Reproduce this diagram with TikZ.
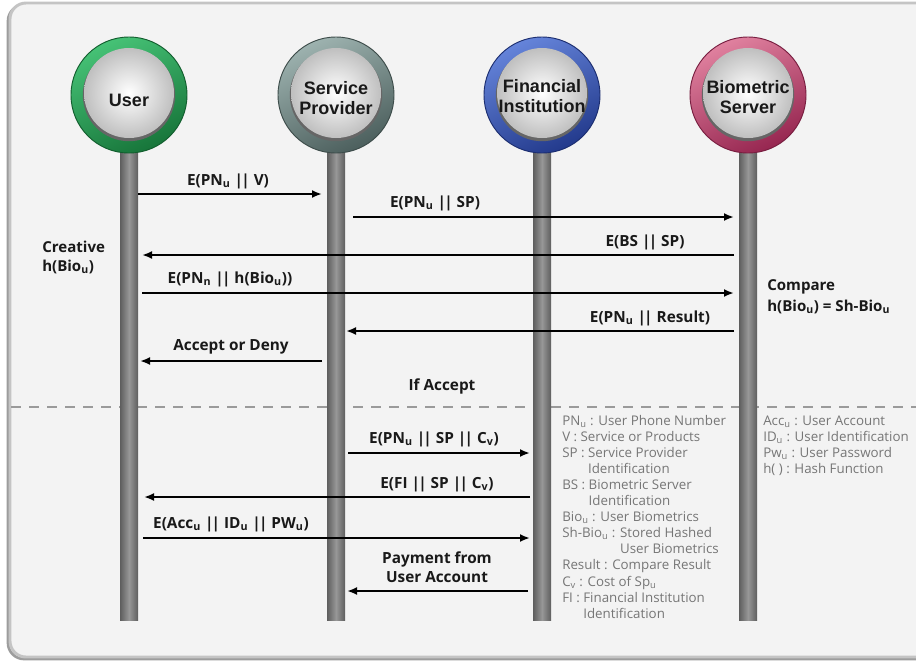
\documentclass[tikz,border=0pt]{standalone}
\usepackage{fontspec}
\setmainfont{Open Sans}
\newfontfamily\circfont{Liberation Sans}
\usetikzlibrary{arrows.meta}

\definecolor{bgc}{HTML}{F3F3F3}
\definecolor{framec}{HTML}{C4C4C4}
\definecolor{barD}{HTML}{5E5E5E}
\definecolor{barL}{HTML}{979797}
\definecolor{legc}{HTML}{767676}
\definecolor{dashc}{HTML}{9A9A9A}
\definecolor{grnL}{HTML}{46C276}
\definecolor{grnD}{HTML}{17753A}
\definecolor{spL}{HTML}{9DB2AF}
\definecolor{spD}{HTML}{4C5F5D}
\definecolor{fiL}{HTML}{6584DA}
\definecolor{fiD}{HTML}{233A8C}
\definecolor{bsL}{HTML}{E0819F}
\definecolor{bsD}{HTML}{962650}

% concatenation bars
\newcommand\cc{|\kern-1.3pt|}

% ringed head of a lifeline: x, light ring colour, dark ring colour, node name, label, label y
\newcommand\lifehead[6]{%
  \shade[top color=#2, bottom color=#3, shading angle=25] (#1,95) circle (58);
  \draw[#3!80!black, line width=0.7pt] (#1,95) circle (58);
  \fill[black!60] (#1,95) circle (46.2);
  \shade[inner color=white, outer color=black!25] (#1,93) circle (45);
  \node[actorname] (#4) at (#1,#6) {#5};
}
% vertical lifeline bar centred on x
\newcommand\lifebar[1]{%
  \shade[left color=barD, right color=barD, middle color=barL] (#1-9,150) rectangle (#1+9,620);
}

\begin{document}
\begin{tikzpicture}[x=0.75pt,y=-0.75pt,
  actorname/.style={font=\circfont\bfseries\fontsize{13.5}{15.5}\selectfont, align=center, inner sep=0, text=black!90},
  lbl/.style={font=\bfseries\fontsize{11.5}{14}\selectfont, inner sep=0, anchor=base, text=black!90},
  note/.style={font=\bfseries\fontsize{11.3}{14.25}\selectfont, inner sep=0, align=left, anchor=west, text=black!90},
  legtext/.style={font=\fontsize{10}{12}\selectfont, inner sep=0, anchor=base west, text=legc},
  msg/.style={line width=1.6pt, -{Latex[length=7.5pt,width=6pt]}}]

\useasboundingbox (0,0) rectangle (916,661);
\clip (0,0) rectangle (916,661);

% panel
\fill[white] (0,0) rectangle (916,661);
\draw[framec!80!black, line width=2pt, rounded corners=12] (8,5) rectangle (940,659);
\draw[framec, line width=2.2pt, fill=bgc, rounded corners=12] (10,3) rectangle (940,657);

% phase separator
\coordinate (sepL) at (11,407);
\coordinate (sepR) at (916,407);
\draw[dashc, line width=1.6pt, dash pattern=on 7.5pt off 6pt] (sepL) -- (sepR);

% lifelines
\lifebar{129}
\lifebar{336}
\lifebar{542}
\lifebar{748}

% heads
\lifehead{129}{grnL}{grnD}{user}{User}{100}
\lifehead{336}{spL}{spD}{sp}{Service\\Provider}{98}
\lifehead{542}{fiL}{fiD}{fi}{Financial\\Institution}{96}
\lifehead{748}{bsL}{bsD}{bs}{Biometric\\Server}{97}

% message end points
\coordinate (m1a) at (138,194);  \coordinate (m1b) at (322,194);
\coordinate (m2a) at (353,217);  \coordinate (m2b) at (734,217);
\coordinate (m3a) at (734,255);  \coordinate (m3b) at (142,255);
\coordinate (m4a) at (142,293);  \coordinate (m4b) at (734,293);
\coordinate (m5a) at (734,331);  \coordinate (m5b) at (346,331);
\coordinate (m6a) at (322,361);  \coordinate (m6b) at (140,361);
\coordinate (m7a) at (348,453);  \coordinate (m7b) at (530,453);
\coordinate (m8a) at (530,497);  \coordinate (m8b) at (144,497);
\coordinate (m9a) at (143,538);  \coordinate (m9b) at (530,538);
\coordinate (m10a) at (528,591); \coordinate (m10b) at (347,591);

\draw[msg] (m1a) -- (m1b);
\draw[msg] (m2a) -- (m2b);
\draw[msg] (m3a) -- (m3b);
\draw[msg] (m4a) -- (m4b);
\draw[msg] (m5a) -- (m5b);
\draw[msg] (m6a) -- (m6b);
\draw[msg] (m7a) -- (m7b);
\draw[msg] (m8a) -- (m8b);
\draw[msg] (m9a) -- (m9b);
\draw[msg] (m10a) -- (m10b);

% message labels
\node[lbl] (l1) at (228,185) {E(PN\textsubscript{u} \cc{} V)};
\node[lbl] (l2) at (435,207) {E(PN\textsubscript{u} \cc{} SP)};
\node[lbl] (l3) at (645,246) {E(BS \cc{} SP)};
\node[lbl] (l4) at (230,283) {E(PN\textsubscript{n} \cc{} h(Bio\textsubscript{u}))};
\node[lbl] (l5) at (650,322) {E(PN\textsubscript{u} \cc{} Result)};
\node[lbl] (l6) at (231,350) {Accept or Deny};
\node[lbl] (l7) at (442,390) {If Accept};
\node[lbl] (l8) at (434,443) {E(PN\textsubscript{u} \cc{} SP \cc{} C\textsubscript{v})};
\node[lbl] (l9) at (437,488) {E(FI \cc{} SP \cc{} C\textsubscript{v})};
\node[lbl] (l10) at (231,528) {E(Acc\textsubscript{u} \cc{} ID\textsubscript{u} \cc{} PW\textsubscript{u})};
\node[lbl, anchor=center, align=center, font=\bfseries\fontsize{11.5}{14.25}\selectfont] (l11) at (437,567.5) {Payment from\\User Account};

% local computations
\node[note] (n1) at (42,257.5) {Creative\\h(Bio\textsubscript{u})};
\node[note, font=\bfseries\fontsize{11.3}{15.75}\selectfont] (n2) at (767,296.5) {Compare\\h(Bio\textsubscript{u}) = Sh-Bio\textsubscript{u}};

% notation
\foreach \t [count=\i] in {
  PN\textsubscript{u} : User Phone Number,
  V : Service or Products,
  SP : Service Provider,
  \phantom{SP : }Identification,
  BS : Biometric Server,
  \phantom{BS : }Identification,
  Bio\textsubscript{u} : User Biometrics,
  Sh-Bio\textsubscript{u} : Stored Hashed,
  \phantom{Sh-Bio\textsubscript{u} : }User Biometrics,
  Result : Compare Result,
  C\textsubscript{v} : Cost of Sp\textsubscript{u},
  FI : Financial Institution,
  \phantom{FI : }Identification}
  \node[legtext] (leg\i) at (562,{425+16.1*(\i-1)}) {\t};

\foreach \t [count=\i] in {
  Acc\textsubscript{u} : User Account,
  ID\textsubscript{u} : User Identification,
  Pw\textsubscript{u} : User Password,
  h( ) : Hash Function}
  \node[legtext] (legb\i) at (763,{425+16.1*(\i-1)}) {\t};

\end{tikzpicture}
\end{document}
